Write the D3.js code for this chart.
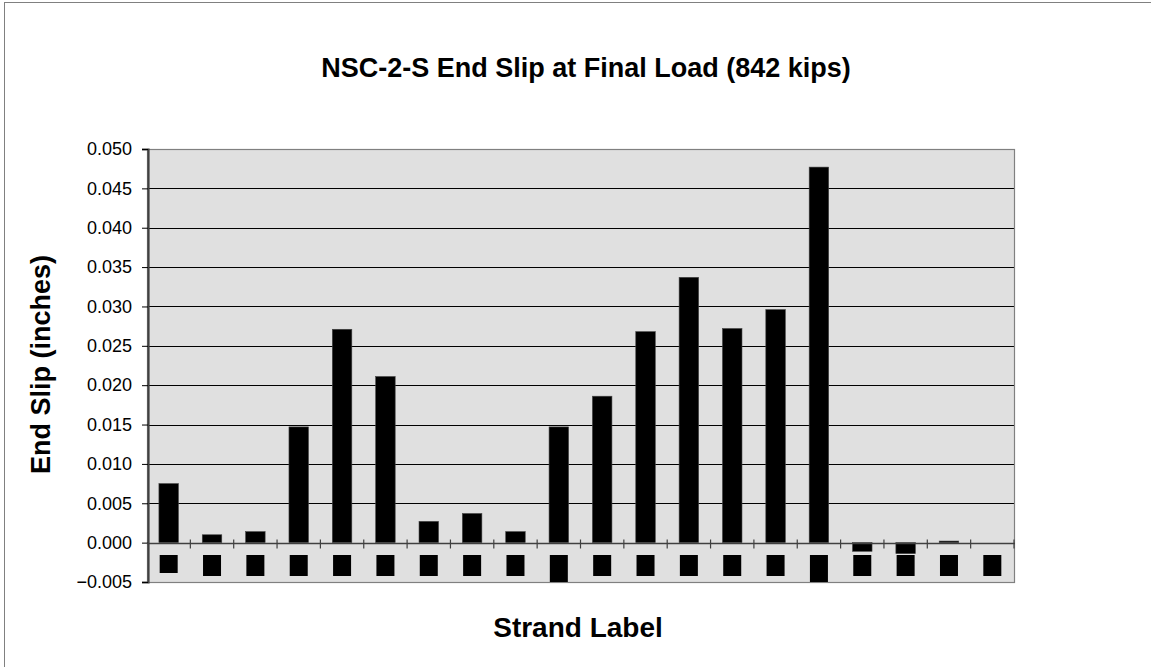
<!DOCTYPE html>
<html>
<head>
<meta charset="utf-8">
<script src="https://d3js.org/d3.v7.min.js"></script>
<style>
  html, body { margin: 0; padding: 0; background: #fff; }
  svg { display: block; font-family: "Liberation Sans", Arial, sans-serif; }
</style>
</head>
<body>
<svg id="chart" width="1151" height="667"></svg>
<script>
// Strand labels along the bottom axis
const strands = ["1","2","3","4","5","6","7","8","9","10",
                 "11","12","13","14","15","16","17","18","19","20"];
// End slip (in.) measured at the final load of 842 kips
const endSlip = [0.0075, 0.0010, 0.0014, 0.0147, 0.0271, 0.0211, 0.0027, 0.0037, 0.0014, 0.0147,
                 0.0186, 0.0268, 0.0337, 0.0272, 0.0296, 0.0477, -0.0011, -0.0014, 0.0002, 0.0000];
// Value-axis ticks
const yTicks = [-0.005, 0, 0.005, 0.010, 0.015, 0.020, 0.025, 0.030, 0.035, 0.040, 0.045, 0.050];

const svg = d3.select("#chart");
const W = 1151, H = 667;
const plot = { left: 147, right: 1014, top: 149, bottom: 582 };

// outer frame
svg.append("rect")
  .attr("x", 4.5).attr("y", 2.5)
  .attr("width", W + 20).attr("height", H + 20)
  .attr("fill", "#fff").attr("stroke", "#808080").attr("stroke-width", 1);

const x = d3.scaleBand()
  .domain(strands)
  .range([plot.left, plot.right])
  .paddingInner(0.55)
  .paddingOuter(0.275);

const y = d3.scaleLinear()
  .domain([-0.005, 0.050])
  .range([plot.bottom, plot.top]);

// plot background
svg.append("rect")
  .attr("x", plot.left).attr("y", plot.top)
  .attr("width", plot.right - plot.left).attr("height", plot.bottom - plot.top)
  .attr("fill", "#e0e0e0");

// horizontal gridlines
svg.append("g")
  .selectAll("line")
  .data(yTicks.filter(t => t > -0.005 && t < 0.050))
  .join("line")
  .attr("x1", plot.left).attr("x2", plot.right)
  .attr("y1", d => Math.round(y(d)) + 0.5).attr("y2", d => Math.round(y(d)) + 0.5)
  .attr("stroke", "#000").attr("stroke-width", 1);

// plot border
svg.append("rect")
  .attr("x", plot.left + 0.5).attr("y", plot.top + 0.5)
  .attr("width", plot.right - plot.left).attr("height", plot.bottom - plot.top)
  .attr("fill", "none").attr("stroke", "#808080").attr("stroke-width", 1.2);

// bars
svg.append("g")
  .selectAll("rect")
  .data(strands.map((s, i) => ({ s, v: endSlip[i] })))
  .join("rect")
  .attr("x", d => x(d.s))
  .attr("width", x.bandwidth())
  .attr("y", d => y(Math.max(0, d.v)))
  .attr("height", d => Math.abs(y(d.v) - y(0)))
  .attr("fill", "#000")
  .attr("stroke", "#444").attr("stroke-width", 0.6);

// value axis
const yAxis = d3.axisLeft(y)
  .tickValues(yTicks)
  .tickFormat(d3.format(".3f"))
  .tickSize(6)
  .tickPadding(10);
const gy = svg.append("g")
  .attr("transform", `translate(${plot.left + 1},0)`)
  .call(yAxis);
gy.select(".domain").attr("stroke", "#404040").attr("stroke-width", 2.2);
gy.selectAll(".tick line").attr("stroke", "#000");
gy.selectAll(".tick text")
  .attr("font-size", 18).attr("fill", "#000")
  .attr("font-family", "Liberation Sans, Arial, sans-serif");

// category axis along zero, with ticks between categories
const zeroY = Math.round(y(0)) + 0.5;
svg.append("line")
  .attr("x1", plot.left).attr("x2", plot.right + 1)
  .attr("y1", zeroY).attr("y2", zeroY)
  .attr("stroke", "#404040").attr("stroke-width", 1.4);
const step = x.step();
svg.append("g")
  .selectAll("line")
  .data(strands.slice(1).concat(["end"]))
  .join("line")
  .attr("x1", (d, i) => plot.left + step * (i + 1))
  .attr("x2", (d, i) => plot.left + step * (i + 1))
  .attr("y1", zeroY - 4).attr("y2", zeroY + 5)
  .attr("stroke", "#404040").attr("stroke-width", 1.2);

// category labels (dark label boxes)
const lab = svg.append("g")
  .selectAll("g")
  .data(strands)
  .join("g")
  .attr("transform", d => `translate(${x(d) + x.bandwidth() / 2},0)`);
lab.append("rect")
  .attr("x", -9).attr("y", 555)
  .attr("width", 18).attr("height", (d, i) => (i === 9 || i === 15) ? 27 : (i === 0 ? 18 : 21))
  .attr("fill", "#000");
lab.append("text")
  .attr("y", 570)
  .attr("text-anchor", "middle")
  .attr("font-size", 12).attr("font-weight", "bold")
  .attr("fill", "#000")
  .text(d => d);

// titles
svg.append("text")
  .attr("x", 586).attr("y", 77)
  .attr("text-anchor", "middle")
  .attr("font-size", 27).attr("font-weight", "bold")
  .text("NSC-2-S End Slip at Final Load (842 kips)");

svg.append("text")
  .attr("x", 578).attr("y", 637)
  .attr("text-anchor", "middle")
  .attr("font-size", 28).attr("font-weight", "bold")
  .text("Strand Label");

svg.append("text")
  .attr("transform", `translate(50,${(plot.top + plot.bottom) / 2 - 1}) rotate(-90)`)
  .attr("text-anchor", "middle")
  .attr("font-size", 27).attr("font-weight", "bold")
  .text("End Slip (inches)");
</script>
</body>
</html>
